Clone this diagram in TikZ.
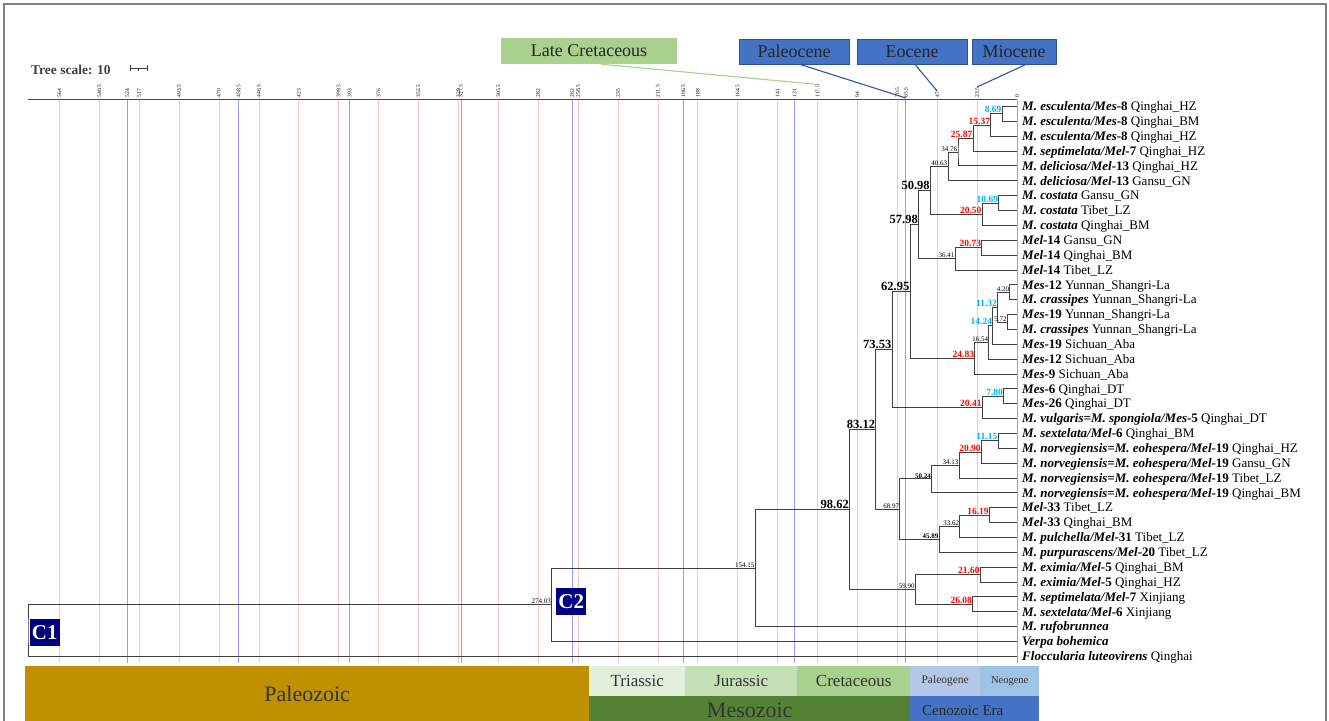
\documentclass[tikz,border=0pt]{standalone}
\usepackage{fontspec}
\setmainfont{Liberation Serif}
\usetikzlibrary{calc}
\definecolor{pinkgrid}{HTML}{F7C6C6}
\definecolor{bluegrid}{HTML}{9A9AFF}
\definecolor{agered}{HTML}{FF0000}
\definecolor{ageblue}{HTML}{00B0F0}
\definecolor{framegray}{HTML}{808080}
\definecolor{lategreen}{HTML}{A9D18E}
\definecolor{epochfill}{HTML}{4472C4}
\definecolor{epochdraw}{HTML}{2F528F}
\definecolor{epochline}{HTML}{2F5597}
\definecolor{paleozoicc}{HTML}{BF9000}
\definecolor{triassicc}{HTML}{E2EFDA}
\definecolor{jurassicc}{HTML}{C5E0B4}
\definecolor{cretaceousc}{HTML}{A9D18E}
\definecolor{mesozoicc}{HTML}{548235}
\definecolor{paleogenec}{HTML}{B4C7E7}
\definecolor{neogenec}{HTML}{9DC3E6}
\definecolor{cenozoicc}{HTML}{4472C4}
\definecolor{cbox}{HTML}{000080}

\newcommand{\spn}[1]{\textbf{\textit{#1}}}
\newcommand{\fsz}[1]{\fontsize{#1}{#1}\selectfont}
% clade: name, age, first child, second child, label style
\newcommand{\clade}[5]{%
  \path let \p1 = (#3), \p2 = (#4) in
    ({(1017-1.698*#2)*1pt}, {0.5*(\y1+\y2)}) coordinate (#1);
  \draw[branch] (#3) -| (#1) |- (#4);
  \node[#5] (#1lab) at (#1) {#2};
}

\begin{document}
\begin{tikzpicture}[x=1pt, y=-1pt]

  \tikzstyle{branch} = [draw=black!75, line width=0.9pt];
  \tikzstyle{leaf} = [anchor=west, inner xsep=5pt, inner ysep=0pt,
    text height=9.5pt, text depth=1pt, font=\fsz{13}];
  \tikzstyle{agebig} = [anchor=south east, inner sep=0.6pt, font=\bfseries\fsz{12.5}];
  \tikzstyle{agered} = [anchor=south east, inner sep=0.6pt, text=agered, font=\bfseries\fsz{9.5}];
  \tikzstyle{ageblue} = [anchor=south east, inner sep=0.6pt, text=ageblue, font=\bfseries\fsz{9.5}];
  \tikzstyle{agesmall} = [anchor=south east, inner sep=0.6pt, font=\fsz{7}];
  \tikzstyle{agesmallb} = [anchor=south east, inner sep=0.6pt, font=\bfseries\fsz{7}];
  \tikzstyle{ticklab} = [rotate=90, anchor=west, inner sep=0.5pt, font=\fsz{5.5}];
  \tikzstyle{bar} = [anchor=north west, inner sep=0pt, text=black!80];
  \tikzstyle{clabel} = [anchor=north west, inner sep=0pt, fill=cbox, text=white,
    minimum width=30, minimum height=27, font=\bfseries\fsz{21}];

  \tikzset{
    pinkline/.style={draw=pinkgrid, line width=0.6pt},
    blueline/.style={draw=bluegrid, line width=0.6pt},
    epochbox/.style={fill=epochfill, draw=epochdraw, line width=0.8pt,
      minimum height=25, inner sep=0pt, text=black!85, font=\fsz{18}},
    epochlink/.style={draw=epochline, line width=1.1pt},
  }

  \useasboundingbox (0,0) rectangle (1329,720);
  \clip (0,0) rectangle (1329,720);

  % frame
  \draw[framegray, line width=2pt] (3.5,730) -- (3.5,4) -- (1326,4) -- (1326,730);

  % geological time bars
  \node[bar, fill=paleozoicc, minimum width=564, minimum height=56, font=\fsz{22}]
    (paleozoic) at (25,666) {Paleozoic};
  \node[bar, fill=triassicc, minimum width=96, minimum height=29.5, font=\fsz{17}]
    (triassic) at (589,666) {Triassic};
  \node[bar, fill=jurassicc, minimum width=112, minimum height=29.5, font=\fsz{17}]
    (jurassic) at (685,666) {Jurassic};
  \node[bar, fill=cretaceousc, minimum width=113, minimum height=29.5, font=\fsz{17}]
    (cretaceous) at (797,666) {Cretaceous};
  \node[bar, fill=paleogenec, minimum width=70, minimum height=29.5, font=\fsz{11.5}]
    (paleogene) at (910,666) {Paleogene};
  \node[bar, fill=neogenec, minimum width=59, minimum height=29.5, font=\fsz{10.5}]
    (neogene) at (980,666) {Neogene};
  \node[bar, fill=mesozoicc, minimum width=321, minimum height=30, font=\fsz{22}]
    (mesozoic) at (589,695.5) {Mesozoic};
  \node[bar, fill=cenozoicc, minimum width=129, minimum height=30]
    (cenozoic) at (910,695.5) {};
  \node[font=\fsz{15}, text=black!85, inner sep=0pt]
    (cenozoictxt) at ([xshift=-12pt]cenozoic.center) {Cenozoic Era};

  % time grid
  \foreach \a [count=\k] in {564,540.5,517,493.5,470,446.5,423,399.5,376,352.5,329,
    305.5,282,258.5,235,211.5,188,164.5,141,117.5,94,70.5,47,23.5} {
    \draw[pinkline] ({1017-1.698*\a},99.5) -- ({1017-1.698*\a},663);
    \node[ticklab] (p\k) at ({1017-1.698*\a},98) {\a};
  }
  \foreach \a [count=\k] in {524,458.5,393,327.5,262,196.5,131,65.5,0} {
    \draw[blueline] ({1017-1.698*\a},99.5) -- ({1017-1.698*\a},663);
    \node[ticklab] (b\k) at ({1017-1.698*\a},98) {\a};
  }
  \draw[black!70, line width=1pt] (28,99.5) -- (1017,99.5);

  % epochs
  \node[fill=lategreen, minimum width=176, minimum height=26, inner sep=0pt,
    text=black!85, font=\fsz{18}] (latecret) at (589,51) {Late Cretaceous};
  \node[epochbox, minimum width=110] (paleocene) at (794,51.5) {Paleocene};
  \node[epochbox, minimum width=110] (eocene) at (912,51.5) {Eocene};
  \node[epochbox, minimum width=84] (miocene) at (1014,51.5) {Miocene};
  \draw[lategreen, line width=1.1pt] ([xshift=12pt]latecret.south) -- (p20.east);
  \draw[epochlink] ([xshift=6pt]paleocene.south) -- (b8.west);
  \draw[epochlink] ([xshift=3pt]eocene.south) -- (p23.east);
  \draw[epochlink] ([xshift=12pt]miocene.south) -- (p24.east);

  % tree scale
  \node[anchor=base west, inner sep=0pt, text=black!75, font=\bfseries\fsz{13.5}]
    (tscale) at (31,74) {Tree scale: 10};
  \coordinate (sb1) at (130,68);
  \coordinate (sb2) at (147,68);
  \draw[black!75, line width=0.9pt] (sb1) -- (sb2);
  \draw[black!75, line width=0.9pt] ([yshift=3pt]sb1) -- ([yshift=-3pt]sb1);
  \draw[black!75, line width=0.9pt] ([yshift=3pt]sb2) -- ([yshift=-3pt]sb2);
  \draw[black!75, line width=0.7pt] ($(sb1)!.5!(sb2)$) -- ([yshift=-3pt]$(sb1)!.5!(sb2)$);

  % leaves
  \node[leaf] (l1) at (1017,106.50) {\spn{M. esculenta/Mes}\textbf{-8} Qinghai\_HZ};
  \node[leaf] (l2) at (1017,121.36) {\spn{M. esculenta/Mes}\textbf{-8} Qinghai\_BM};
  \node[leaf] (l3) at (1017,136.22) {\spn{M. esculenta/Mes}\textbf{-8} Qinghai\_HZ};
  \node[leaf] (l4) at (1017,151.08) {\spn{M. septimelata/Mel}\textbf{-7} Qinghai\_HZ};
  \node[leaf] (l5) at (1017,165.94) {\spn{M. deliciosa/Mel}\textbf{-13} Qinghai\_HZ};
  \node[leaf] (l6) at (1017,180.80) {\spn{M. deliciosa/Mel}\textbf{-13} Gansu\_GN};
  \node[leaf] (l7) at (1017,195.66) {\spn{M. costata} Gansu\_GN};
  \node[leaf] (l8) at (1017,210.52) {\spn{M. costata} Tibet\_LZ};
  \node[leaf] (l9) at (1017,225.38) {\spn{M. costata} Qinghai\_BM};
  \node[leaf] (l10) at (1017,240.24) {\spn{Mel}\textbf{-14} Gansu\_GN};
  \node[leaf] (l11) at (1017,255.10) {\spn{Mel}\textbf{-14} Qinghai\_BM};
  \node[leaf] (l12) at (1017,269.96) {\spn{Mel}\textbf{-14} Tibet\_LZ};
  \node[leaf] (l13) at (1017,284.82) {\spn{Mes}\textbf{-12} Yunnan\_Shangri-La};
  \node[leaf] (l14) at (1017,299.68) {\spn{M. crassipes} Yunnan\_Shangri-La};
  \node[leaf] (l15) at (1017,314.54) {\spn{Mes}\textbf{-19} Yunnan\_Shangri-La};
  \node[leaf] (l16) at (1017,329.40) {\spn{M. crassipes} Yunnan\_Shangri-La};
  \node[leaf] (l17) at (1017,344.26) {\spn{Mes}\textbf{-19} Sichuan\_Aba};
  \node[leaf] (l18) at (1017,359.12) {\spn{Mes}\textbf{-12} Sichuan\_Aba};
  \node[leaf] (l19) at (1017,373.98) {\spn{Mes}\textbf{-9} Sichuan\_Aba};
  \node[leaf] (l20) at (1017,388.84) {\spn{Mes}\textbf{-6} Qinghai\_DT};
  \node[leaf] (l21) at (1017,403.70) {\spn{Mes}\textbf{-26} Qinghai\_DT};
  \node[leaf] (l22) at (1017,418.56) {\spn{M. vulgaris=M. spongiola/Mes}\textbf{-5} Qinghai\_DT};
  \node[leaf] (l23) at (1017,433.42) {\spn{M. sextelata/Mel}\textbf{-6} Qinghai\_BM};
  \node[leaf] (l24) at (1017,448.28) {\spn{M. norvegiensis=M. eohespera/Mel}\textbf{-19} Qinghai\_HZ};
  \node[leaf] (l25) at (1017,463.14) {\spn{M. norvegiensis=M. eohespera/Mel}\textbf{-19} Gansu\_GN};
  \node[leaf] (l26) at (1017,478.00) {\spn{M. norvegiensis=M. eohespera/Mel}\textbf{-19} Tibet\_LZ};
  \node[leaf] (l27) at (1017,492.86) {\spn{M. norvegiensis=M. eohespera/Mel}\textbf{-19} Qinghai\_BM};
  \node[leaf] (l28) at (1017,507.72) {\spn{Mel}\textbf{-33} Tibet\_LZ};
  \node[leaf] (l29) at (1017,522.58) {\spn{Mel}\textbf{-33} Qinghai\_BM};
  \node[leaf] (l30) at (1017,537.44) {\spn{M. pulchella/Mel}\textbf{-31} Tibet\_LZ};
  \node[leaf] (l31) at (1017,552.30) {\spn{M. purpurascens/Mel}\textbf{-20} Tibet\_LZ};
  \node[leaf] (l32) at (1017,567.16) {\spn{M. eximia/Mel}\textbf{-5} Qinghai\_BM};
  \node[leaf] (l33) at (1017,582.02) {\spn{M. eximia/Mel}\textbf{-5} Qinghai\_HZ};
  \node[leaf] (l34) at (1017,596.88) {\spn{M. septimelata/Mel}\textbf{-7} Xinjiang};
  \node[leaf] (l35) at (1017,611.74) {\spn{M. sextelata/Mel}\textbf{-6} Xinjiang};
  \node[leaf] (l36) at (1017,626.60) {\spn{M. rufobrunnea}};
  \node[leaf] (l37) at (1017,641.46) {\spn{Verpa bohemica}};
  \node[leaf] (l38) at (1017,656.32) {\spn{Floccularia luteovirens} Qinghai};

  % clades
  \clade{n1}{8.69}{l1.west}{l2.west}{ageblue}
  \clade{n2}{15.37}{n1}{l3.west}{agered}
  \clade{n3}{25.87}{n2}{l4.west}{agered}
  \clade{n4}{34.76}{n3}{l5.west}{agesmall}
  \clade{n5}{40.63}{n4}{l6.west}{agesmall}
  \clade{n6}{10.69}{l7.west}{l8.west}{ageblue}
  \clade{n7}{20.50}{n6}{l9.west}{agered}
  \clade{n8}{50.98}{n5}{n7}{agebig}
  \clade{n9}{20.73}{l10.west}{l11.west}{agered}
  \clade{n10}{36.41}{n9}{l12.west}{agesmall}
  \clade{n11}{57.98}{n8}{n10}{agebig}
  \clade{n12}{4.20}{l13.west}{l14.west}{agesmall}
  \clade{n13}{5.72}{l15.west}{l16.west}{agesmall}
  \clade{n14}{11.32}{n12}{n13}{ageblue}
  \clade{n15}{14.24}{n14}{l17.west}{ageblue}
  \clade{n16}{16.54}{n15}{l18.west}{agesmall}
  \clade{n17}{24.83}{n16}{l19.west}{agered}
  \clade{n18}{62.95}{n11}{n17}{agebig}
  \clade{n19}{7.80}{l20.west}{l21.west}{ageblue}
  \clade{n20}{20.41}{n19}{l22.west}{agered}
  \clade{n21}{73.53}{n18}{n20}{agebig}
  \clade{n22}{11.15}{l23.west}{l24.west}{ageblue}
  \clade{n23}{20.90}{n22}{l25.west}{agered}
  \clade{n24}{34.13}{n23}{l26.west}{agesmall}
  \clade{n25}{50.24}{n24}{l27.west}{agesmallb}
  \clade{n26}{16.19}{l28.west}{l29.west}{agered}
  \clade{n27}{33.62}{n26}{l30.west}{agesmall}
  \clade{n28}{45.89}{n27}{l31.west}{agesmallb}
  \clade{n29}{68.97}{n25}{n28}{agesmall}
  \clade{n30}{83.12}{n21}{n29}{agebig}
  \clade{n31}{21.60}{l32.west}{l33.west}{agered}
  \clade{n32}{26.08}{l34.west}{l35.west}{agered}
  \clade{n33}{59.90}{n31}{n32}{agesmall}
  \clade{n34}{98.62}{n30}{n33}{agebig}
  \clade{n35}{154.15}{n34}{l36.west}{agesmall}
  \clade{n36}{274.03}{n35}{l37.west}{agesmall}
  \path let \p1 = (n36), \p2 = (l38.west) in (28pt, {0.5*(\y1+\y2)}) coordinate (root);
  \draw[branch] (n36) -| (root) |- (l38.west);

  % clade tags
  \node[clabel] (c1) at (29.5,619) {C1};
  \node[clabel] (c2) at (556,588) {C2};

\end{tikzpicture}
\end{document}
